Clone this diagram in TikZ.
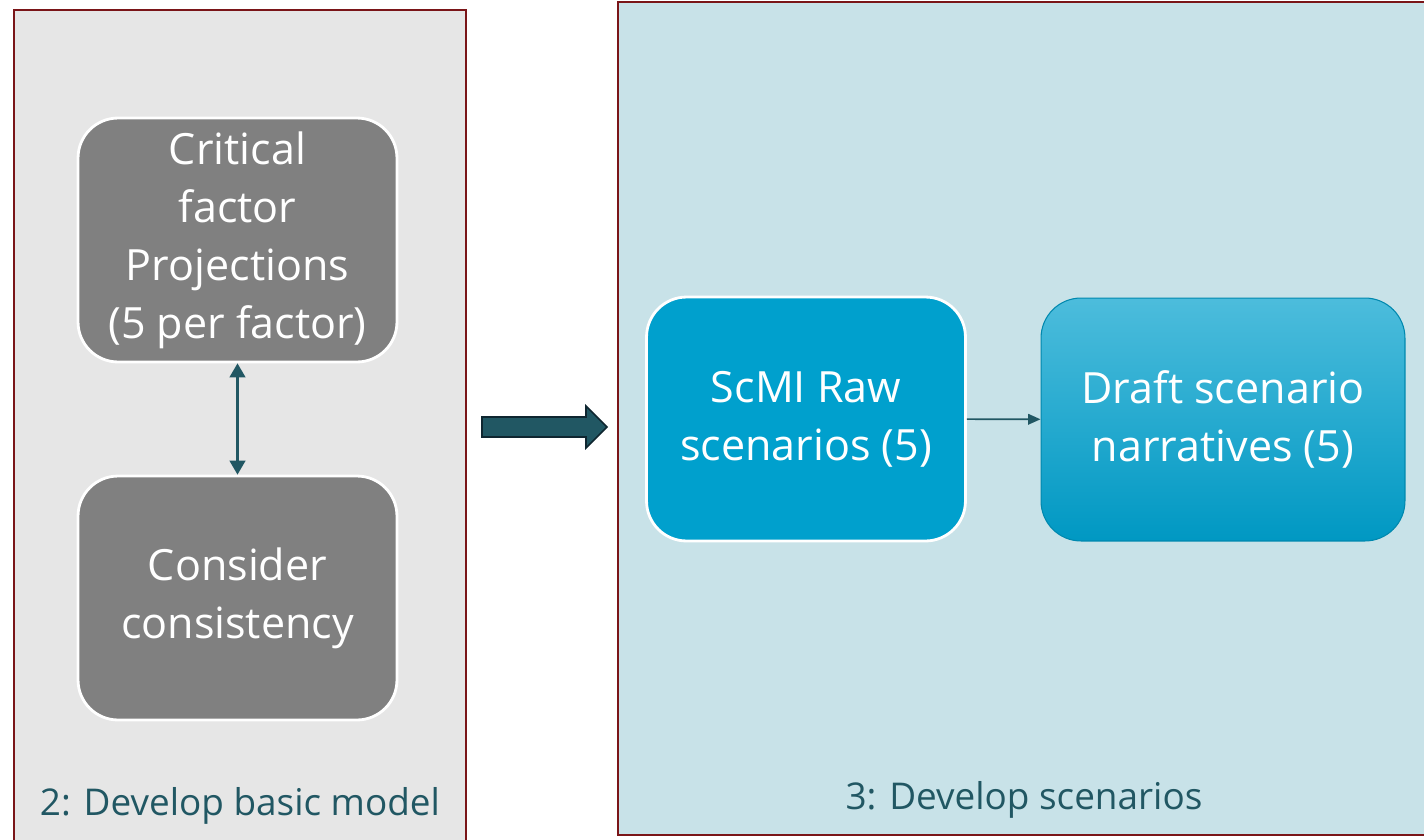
\documentclass[tikz,border=0pt]{standalone}
\usepackage{fontspec}
\setmainfont{Open Sans}
\usetikzlibrary{arrows.meta}

\definecolor{panelred}{HTML}{7A1518}
\definecolor{panelgrey}{HTML}{E6E6E6}
\definecolor{panelblue}{HTML}{C8E2E8}
\definecolor{boxgrey}{HTML}{808080}
\definecolor{boxblue}{HTML}{00A0CD}
\definecolor{teal}{HTML}{215763}
\definecolor{darkteal}{HTML}{0F2630}

\begin{document}
\begin{tikzpicture}[x=0.02cm, y=-0.02cm,
    panel/.style={draw=panelred, line width=1.2pt},
    stepbox/.style={rounded corners=0.8cm, draw=white, line width=1.6pt,
        text=white, align=center, font=\fontsize{24.5}{33}\selectfont,
        minimum width=6.38cm, minimum height=4.88cm, inner sep=0pt},
    paneltitle/.style={text=teal, font=\fontsize{21}{29}\selectfont},
    link/.style={teal, line width=1.2pt}]
    \useasboundingbox (0,0) rectangle (1424,839);

    % Panels
    \draw[panel, fill=panelgrey] (14,10) rectangle (466,860);
    \draw[panel, fill=panelblue] (618,2) rectangle (1440,835);
    \node[paneltitle] (basictitle) at (240,806) {2: Develop basic model};
    \node[paneltitle] (scentitle) at (1024,800) {3: Develop scenarios};

    % Step 2 boxes
    \node[stepbox, fill=boxgrey] (projections) at (237.5,240)
        {Critical\\factor\\Projections\\(5 per factor)};
    \node[stepbox, fill=boxgrey] (consistency) at (237.5,598)
        {Consider\\consistency};
    \draw[link, {Triangle[width=9pt,length=8pt]}-{Triangle[width=9pt,length=8pt]}]
        (projections) -- (consistency);

    % Step 3 boxes
    \node[stepbox, fill=boxblue] (raw) at (806,419)
        {ScMI Raw\\scenarios (5)};
    \node[stepbox, draw=boxblue!85!black, line width=0.6pt,
        top color=boxblue!70!white, bottom color=boxblue!95!black,
        minimum width=7.28cm, minimum height=4.86cm] (draft) at (1223,419.5)
        {Draft scenario\\narratives (5)};
    \draw[teal, line width=0.9pt, -{Triangle[width=6pt,length=7pt]}]
        (raw) -- (draft);

    % Big arrow between the panels
    \coordinate (bigtail) at (482,427);
    \fill[fill=teal, draw=darkteal, line width=0.9pt]
        (bigtail) ++(0,-10) -- ++(104,0) -- ++(0,-11) -- (607,427)
        -- (586,448) -- ++(0,-11) -- ++(-104,0) -- cycle;
\end{tikzpicture}
\end{document}
